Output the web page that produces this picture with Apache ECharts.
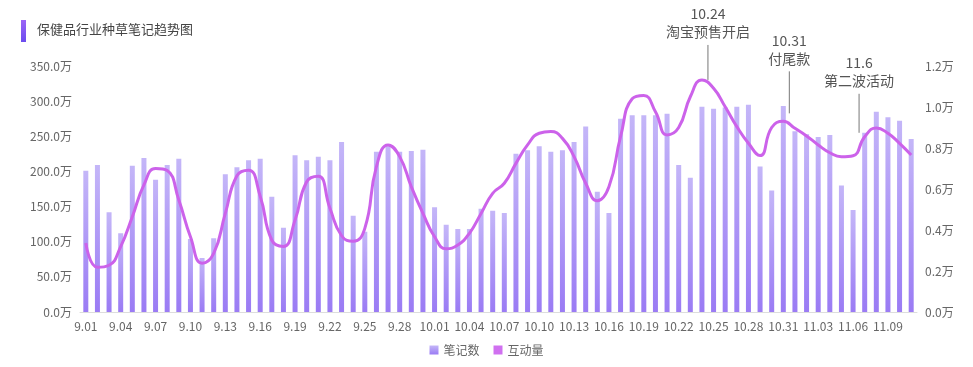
<!DOCTYPE html>
<html>
<head>
<meta charset="utf-8">
<script src="https://cdn.jsdelivr.net/npm/echarts@6/dist/echarts.min.js"></script>
<style>
html,body{margin:0;padding:0;background:#fff;}
#main{width:973px;height:367px;}
</style>
</head>
<body>
<div id="main"></div>
<script>
// Categories: 9.01 - 11.11
const categories = (function(){
  const out = [];
  for (let d = 1; d <= 30; d++) out.push('9.' + String(d).padStart(2,'0'));
  for (let d = 1; d <= 31; d++) out.push('10.' + String(d).padStart(2,'0'));
  for (let d = 1; d <= 11; d++) out.push('11.' + String(d).padStart(2,'0'));
  return out;
})();

// 笔记数 (unit: 万)
const noteCounts = [
  201, 209, 142, 112, 208, 219, 188, 209, 218, 104, 77, 105,
  196, 206, 216, 218, 164, 120, 223, 216, 221, 216, 242, 137,
  114, 228, 236, 228, 229, 231, 149, 124, 118, 118, 147, 144,
  141, 225, 230, 236, 228, 230, 242, 264, 171, 141, 275, 280,
  280, 280, 282, 209, 191, 292, 289, 291, 292, 295, 207, 173,
  293, 257, 253, 249, 252, 180, 145, 255, 285, 277, 272, 246
];

// 互动量 (unit: 万)
const interactions = [
  0.337, 0.218, 0.228, 0.319, 0.465, 0.620, 0.700, 0.690, 0.546, 0.367, 0.238, 0.286,
  0.481, 0.665, 0.692, 0.565, 0.350, 0.320, 0.449, 0.635, 0.662, 0.506, 0.372, 0.345,
  0.408, 0.709, 0.815, 0.758, 0.611, 0.481, 0.367, 0.308, 0.327, 0.384, 0.481, 0.579,
  0.628, 0.725, 0.815, 0.872, 0.880, 0.847, 0.758, 0.628, 0.543, 0.611, 0.855, 1.040,
  1.056, 0.977, 0.864, 0.900, 1.050, 1.132, 1.091, 1.001, 0.904, 0.823, 0.763, 0.900,
  0.930, 0.896, 0.859, 0.815, 0.777, 0.757, 0.762, 0.855, 0.898, 0.872, 0.823, 0.766
];

const leftTicks = { min: 0, max: 350, interval: 50 };
const rightTicks = { min: 0, max: 1.2, interval: 0.2 };

const annoDates = ['10.24', '10.31', '11.06'];
const annoTexts = ['10.24\n淘宝预售开启', '10.31\n付尾款', '11.6\n第二波活动'];

const FONT = '"Noto Sans CJK SC", "Noto Sans", sans-serif';
const chart = echarts.init(document.getElementById('main'));

const option = {
  backgroundColor: '#fff',
  animation: false,
  textStyle: { fontFamily: FONT },
  grid: { left: 80, right: 56, top: 66, bottom: 55 },
  legend: {
    bottom: 6,
    left: 'center',
    itemWidth: 9,
    itemHeight: 9,
    itemGap: 14,
    icon: 'rect',
    textStyle: { color: '#666', fontSize: 12, fontFamily: FONT },
    data: ['笔记数', '互动量']
  },
  xAxis: {
    type: 'category',
    data: categories,
    axisTick: { show: false },
    axisLine: { lineStyle: { color: '#ddd' } },
    axisLabel: { interval: 2, color: '#666', fontSize: 12, margin: 8, fontFamily: FONT }
  },
  yAxis: [
    {
      type: 'value',
      min: leftTicks.min, max: leftTicks.max, interval: leftTicks.interval,
      splitLine: { show: false },
      axisLine: { show: false },
      axisTick: { show: false },
      axisLabel: { color: '#666', fontSize: 12, margin: 8, fontFamily: FONT,
        formatter: v => v.toFixed(1) + '万' }
    },
    {
      type: 'value',
      min: rightTicks.min, max: rightTicks.max, interval: rightTicks.interval,
      splitLine: { show: false },
      axisLine: { show: false },
      axisTick: { show: false },
      axisLabel: { color: '#666', fontSize: 12, margin: 8, fontFamily: FONT,
        formatter: v => v.toFixed(1) + '万' }
    }
  ],
  series: [
    {
      name: '笔记数',
      type: 'bar',
      yAxisIndex: 0,
      barWidth: 5,
      data: noteCounts,
      itemStyle: {
        color: new echarts.graphic.LinearGradient(0, 0, 0, 1, [
          { offset: 0, color: '#c4b6f8' },
          { offset: 1, color: '#9a7bf4' }
        ])
      }
    },
    {
      name: '互动量',
      type: 'line',
      yAxisIndex: 1,
      smooth: true,
      symbol: 'none',
      data: interactions,
      lineStyle: { color: '#cc62ea', width: 3 },
      itemStyle: { color: '#d070f0' }
    }
  ]
};
chart.setOption(option);

// Title + annotations (positioned through the chart's own scales)
const graphics = [
  {
    type: 'rect', left: 21, top: 20,
    shape: { width: 5, height: 22 },
    style: { fill: new echarts.graphic.LinearGradient(0, 0, 0, 1, [
      { offset: 0, color: '#9c66f6' }, { offset: 1, color: '#6b4cef' }]) }
  },
  {
    type: 'text', left: 37, top: 23,
    style: { text: '保健品行业种草笔记趋势图', fill: '#444', font: '13px ' + FONT }
  }
];
const lineLengths = [35, 42, 39];
const lineGaps = [0, 8, 23];
annoDates.forEach((d, i) => {
  const x = chart.convertToPixel({ xAxisIndex: 0 }, d) + 6;
  const idx = categories.indexOf(d);
  const yCurve = chart.convertToPixel({ yAxisIndex: 1 }, interactions[idx]);
  const yBottom = yCurve - lineGaps[i];
  const yTop = yBottom - lineLengths[i];
  graphics.push({
    type: 'line',
    shape: { x1: x, y1: yTop, x2: x, y2: yBottom },
    style: { stroke: '#777', lineWidth: 1 }
  });
  graphics.push({
    type: 'text',
    x: x, y: yTop - 4,
    style: {
      text: annoTexts[i], fill: '#555', font: '14px ' + FONT,
      align: 'center', verticalAlign: 'bottom', lineHeight: 18
    }
  });
});
chart.setOption({ graphic: graphics });
</script>
</body>
</html>
